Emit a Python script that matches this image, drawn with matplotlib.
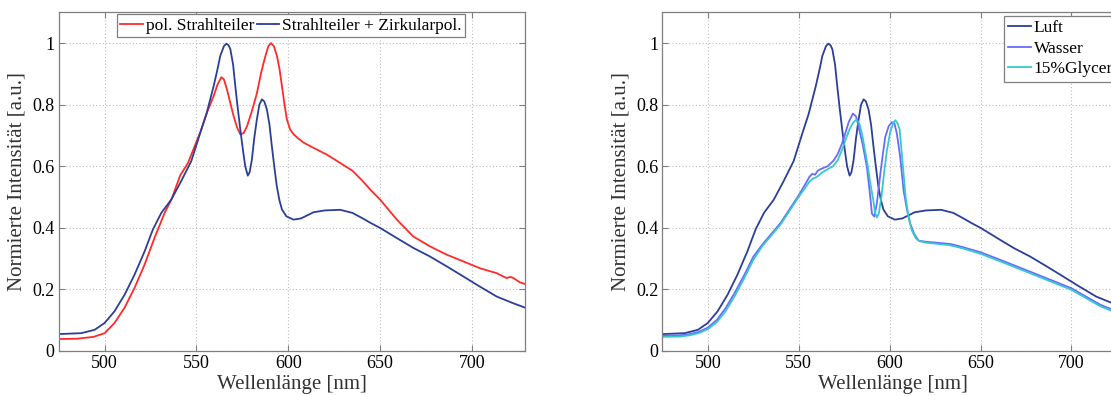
import matplotlib
matplotlib.use("Agg")
import matplotlib.pyplot as plt

# ---------------- data ----------------
# Left panel: red = pol. Strahlteiler
red_wl = [475, 485, 494, 500, 505.4, 510.9, 516.3, 521.8, 527.2, 532.7, 536.3, 541.2, 545.4,
          552.1, 555.5, 559.4, 561.5, 563.6, 565.0, 566.7, 568.5, 570.3, 572.2, 574.0, 575.8,
          577.6, 580.3, 583.0, 585.3, 587.6, 589.2, 590.6, 592.2, 593.9, 595.3, 596.6, 598.0,
          599.3, 601.0, 603.0, 605.5, 608.5, 613.9, 621.2, 628.4, 635, 640, 645, 650.1, 659.2,
          668.2, 677.3, 686.4, 695.5, 704.5, 713.6, 719.0, 721.0, 722.7, 726.3, 729]
red_val = [0.038, 0.039, 0.045, 0.057, 0.090, 0.140, 0.204, 0.280, 0.367, 0.448, 0.490, 0.570, 0.610,
           0.710, 0.770, 0.828, 0.865, 0.889, 0.882, 0.848, 0.805, 0.762, 0.725, 0.703, 0.708,
           0.730, 0.780, 0.838, 0.905, 0.958, 0.990, 1.000, 0.990, 0.958, 0.915, 0.860, 0.800,
           0.752, 0.720, 0.703, 0.690, 0.676, 0.659, 0.637, 0.610, 0.585, 0.555, 0.522, 0.491, 0.426,
           0.371, 0.339, 0.312, 0.290, 0.268, 0.252, 0.236, 0.240, 0.236, 0.222, 0.217]

# Blue = Strahlteiler + Zirkularpol. (identical to "Luft" in the right panel)
blue_wl = [475, 487.3, 494.6, 500, 505.4, 510.9, 516.3, 521.8, 526.3, 530.9, 536.3, 541.7, 547.2,
           552.1, 555.5, 559.4, 561.5, 563.0, 565.0, 566.3, 567.5, 568.5, 570.0, 571.2, 572.5,
           573.9, 575.3, 576.6, 578.0, 579.0, 580.2, 581.5, 582.9, 584.3, 585.7, 587.0, 588.4,
           589.8, 591.1, 592.5, 593.8, 595.2, 596.6, 599.0, 602.9, 607, 613.8, 620, 628.3, 635,
           640, 645, 650.1, 659.2, 668.2, 677.3, 686.4, 695.5, 704.5, 713.6, 722.7, 729]
blue_val = [0.054, 0.057, 0.068, 0.090, 0.128, 0.182, 0.247, 0.323, 0.394, 0.448, 0.491, 0.551, 0.616,
            0.708, 0.770, 0.860, 0.915, 0.958, 0.990, 0.998, 0.993, 0.980, 0.930, 0.860, 0.790,
            0.720, 0.655, 0.600, 0.569, 0.580, 0.620, 0.690, 0.750, 0.800, 0.817, 0.810, 0.784,
            0.735, 0.665, 0.595, 0.535, 0.490, 0.459, 0.437, 0.426, 0.430, 0.450, 0.456, 0.458, 0.448,
            0.432, 0.415, 0.399, 0.366, 0.334, 0.306, 0.274, 0.241, 0.208, 0.176, 0.154, 0.140]

# Right panel: Wasser
wasser_wl = [475, 485, 490, 495, 500, 505, 510, 515, 520, 525, 530, 535, 540, 545, 550, 553, 556,
             557.5, 559, 560.5, 562, 564, 566, 569.2, 571.5, 573.8, 575.8, 577.5, 579.8, 581.5,
             583.0, 585.2, 587.5, 589.0, 590.3, 591.6, 593.0, 594.9, 596.3, 597.6, 599.5, 601.3,
             602.7, 604.0, 605.8, 607.7, 609.5, 611.4, 613.5, 615.9, 620, 624.2, 633.4, 640, 650,
             661, 679.3, 700, 716, 729]
wasser_val = [0.049, 0.050, 0.054, 0.061, 0.075, 0.100, 0.140, 0.190, 0.245, 0.305, 0.345, 0.380,
              0.415, 0.460, 0.505, 0.535, 0.566, 0.575, 0.572, 0.585, 0.590, 0.595, 0.600, 0.618,
              0.640, 0.673, 0.710, 0.743, 0.771, 0.762, 0.727, 0.670, 0.597, 0.520, 0.445, 0.436,
              0.480, 0.575, 0.640, 0.695, 0.730, 0.743, 0.738, 0.705, 0.630, 0.520, 0.460, 0.412,
              0.380, 0.358, 0.354, 0.352, 0.347, 0.337, 0.320, 0.295, 0.252, 0.203, 0.149, 0.118]

# Right panel: 15% Glycerin
glyc_wl = [475, 485, 490, 495, 500, 505, 510, 515, 520, 525, 530, 535, 540, 545, 550, 553, 556,
           558, 560, 563, 566, 569, 571.5, 574, 576, 578, 580, 581.7, 583.3, 585, 586.5, 588,
           589.5, 591, 592, 593, 594, 595.5, 597, 598.5, 600.3, 602, 603.1, 604.3, 605.5, 607,
           608.8, 610.5, 612.3, 614.5, 616.5, 620, 625, 633, 640, 650, 661, 679.3, 700, 716, 729]
glyc_val = [0.045, 0.046, 0.050, 0.057, 0.070, 0.093, 0.130, 0.180, 0.235, 0.295, 0.340, 0.375,
            0.410, 0.455, 0.500, 0.525, 0.550, 0.560, 0.565, 0.580, 0.590, 0.600, 0.620, 0.655,
            0.690, 0.720, 0.742, 0.751, 0.740, 0.700, 0.650, 0.600, 0.540, 0.490, 0.450, 0.433,
            0.445, 0.500, 0.580, 0.650, 0.710, 0.740, 0.749, 0.740, 0.720, 0.620, 0.500, 0.430,
            0.390, 0.365, 0.356, 0.351, 0.348, 0.343, 0.333, 0.315, 0.290, 0.247, 0.198, 0.144, 0.113]

xticks = [500, 550, 600, 650, 700]
yticks = [0, 0.2, 0.4, 0.6, 0.8, 1.0]
ytick_labels = ["0", "0.2", "0.4", "0.6", "0.8", "1"]
xlabel = "Wellenlänge [nm]"
ylabel = "Normierte Intensität [a.u.]"

# ---------------- style ----------------
plt.rcParams['font.family'] = ['Liberation Serif', 'DejaVu Serif']

C_RED = '#ff2a2a'
C_BLUE = '#2b3f98'
C_WASSER = '#6a6aff'
C_GLYC = '#35c9c9'
SPINE = '#7f7f7f'

W, H = 1111, 396
fig = plt.figure(figsize=(W / 100, H / 100), dpi=100)
fig.patch.set_facecolor('white')

bottom = (H - 350.7) / H
height = (350.7 - 12.3) / H
ax1 = fig.add_axes([58.7 / W, bottom, (525 - 58.7) / W, height])
ax2 = fig.add_axes([662.3 / W, bottom, 461.9 / W, height])


def style(ax):
    ax.set_xlim(475, 729)
    ax.set_ylim(0, 1.1)
    ax.set_xticks(xticks)
    ax.set_yticks(yticks)
    ax.set_yticklabels(ytick_labels)
    ax.tick_params(direction='in', length=4, width=0.8, top=True, right=True,
                   labelsize=13, colors=SPINE, labelcolor='black', pad=3)
    for s in ax.spines.values():
        s.set_color(SPINE)
        s.set_linewidth(0.9)
    ax.grid(True, color='#bdbdbd', linestyle=(0, (1, 2)), linewidth=0.8)
    ax.set_axisbelow(True)
    ax.set_xlabel(xlabel, fontsize=15, color='#333333', labelpad=2)
    ax.set_ylabel(ylabel, fontsize=15, color='#333333', labelpad=4)


style(ax1)
style(ax2)

ax1.plot(red_wl, red_val, color=C_RED, lw=1.3, label='pol. Strahlteiler')
ax1.plot(blue_wl, blue_val, color=C_BLUE, lw=1.3, label='Strahlteiler + Zirkularpol.')

ax2.plot(blue_wl, blue_val, color=C_BLUE, lw=1.3, label='Luft')
ax2.plot(wasser_wl, wasser_val, color=C_WASSER, lw=1.3, label='Wasser')
ax2.plot(glyc_wl, glyc_val, color=C_GLYC, lw=1.3, label='15%Glycerin')

leg1 = ax1.legend(loc='upper left', bbox_to_anchor=(117 / W, 1 - 14 / H),
                  bbox_transform=fig.transFigure, ncol=2, fontsize=12.5,
                  handlelength=1.3, handletextpad=0.15, columnspacing=0.15,
                  borderpad=0.2, borderaxespad=0, fancybox=False, framealpha=1,
                  edgecolor=SPINE)
leg1.get_frame().set_linewidth(0.9)

leg2 = ax2.legend(loc='upper left', bbox_to_anchor=(1004 / W, 1 - 16 / H),
                  bbox_transform=fig.transFigure, ncol=1, fontsize=12.5,
                  handlelength=1.3, handletextpad=0.15, labelspacing=0.25,
                  borderpad=0.25, borderaxespad=0, fancybox=False, framealpha=1,
                  edgecolor=SPINE)
leg2.get_frame().set_linewidth(0.9)

fig.savefig('out.png', dpi=100, facecolor='white')
